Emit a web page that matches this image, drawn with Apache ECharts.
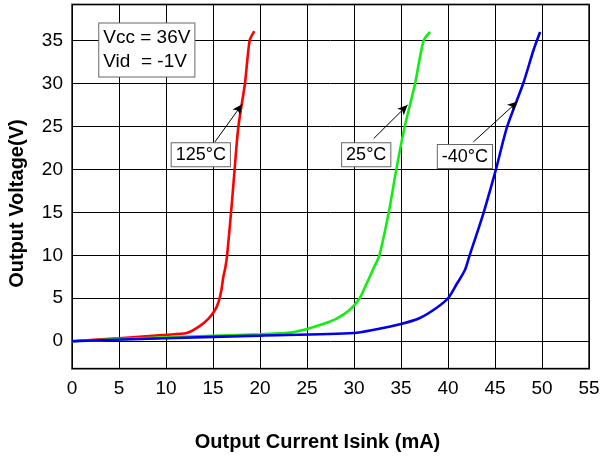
<!DOCTYPE html>
<html>
<head>
<meta charset="utf-8">
<title>Output Voltage vs Output Current</title>
<script src="https://cdn.jsdelivr.net/npm/echarts@6/dist/echarts.min.js"></script>
<style>
    html, body { margin: 0; padding: 0; background: #fff; }
    #chart { width: 603px; height: 461px; }
</style>
</head>
<body>
<div id="chart"></div>
<script>
// output current (mA) / output voltage (V)
const hotX = [0, 5, 10, 12.2, 13.5, 14.5, 15.2, 15.6, 15.9, 16.1, 16.3, 16.5, 17.0, 17.3, 17.7, 18.4, 18.9, 19.4];
const hotY = [0, 0.35, 0.75, 0.95, 1.7, 2.6, 3.6, 4.6, 6.0, 7.5, 8.5, 10, 16, 20, 25, 30, 35, 36.1];

const roomX = [0, 10, 20, 23.2, 24.9, 26.7, 28.1, 29.5, 30.6, 31.3, 32.0, 32.7, 33.7, 34.5, 35.4, 36.5, 37.4, 38.1];
const roomY = [0, 0.45, 0.8, 1.0, 1.4, 2.0, 2.6, 3.6, 5.0, 6.6, 8.3, 10, 15, 20, 25, 30, 35, 36];

const coldX = [0, 10, 20, 30, 32, 35, 37, 38.8, 40, 40.9, 41.8, 42.3, 43.0, 43.8, 45.1, 46.3, 48.0, 49.1, 49.8];
const coldY = [0, 0.35, 0.65, 0.95, 1.3, 2.0, 2.7, 3.9, 5.0, 6.6, 8.3, 10, 12.3, 15, 20, 25, 30, 33.9, 36];

const seriesNames = ['125°C', '25°C', '-40°C'];
const seriesColors = ['#ff0000', '#11ee11', '#0000ee'];

// label box centre and arrow (from, to) in data units
const labelAt = [[13.7, 21.7], [31.3, 21.7], [41.8, 21.5]];
const arrowFrom = [[15.2, 23.2], [32.1, 23.6], [42.7, 23.2]];
const arrowTo = [[18.1, 27.6], [35.7, 27.5], [47.4, 27.9]];

const conditionText = 'Vcc = 36V\nVid  = -1V';
const conditionAt = [2.9, 33.9];

const FONT = 'Liberation Sans, Arial, sans-serif';

function zip(xs, ys) {
    return xs.map((x, i) => [x, ys[i]]);
}

const boxLabel = {
    show: true,
    position: 'inside',
    color: '#000',
    fontFamily: FONT,
    fontSize: 18,
    backgroundColor: '#fff',
    borderColor: '#666',
    borderWidth: 1,
    padding: [3, 4, 2, 4]
};

const curves = [zip(hotX, hotY), zip(roomX, roomY), zip(coldX, coldY)];

const series = curves.map((data, i) => {
    return {
        name: seriesNames[i],
        type: 'line',
        data: data,
        symbol: 'none',
        smooth: 0.25,
        smoothMonotone: 'none',
        lineStyle: { color: seriesColors[i], width: 2.6 },
        markLine: {
            silent: true,
            symbol: ['none', 'arrow'],
            symbolSize: [7, 10],
            lineStyle: { color: '#000', width: 1, type: 'solid' },
            label: { show: false },
            data: [[{ coord: arrowFrom[i] }, { coord: arrowTo[i] }]]
        },
        markPoint: {
            silent: true,
            symbol: 'rect',
            symbolSize: 0,
            label: Object.assign({}, boxLabel, { formatter: seriesNames[i] }),
            data: [{ coord: labelAt[i] }]
        }
    };
});

// the test condition box sits on the first series
series[0].markPoint.data.push({
    coord: conditionAt,
    label: Object.assign({}, boxLabel, {
        formatter: conditionText,
        align: 'left',
        fontSize: 19,
        lineHeight: 24,
        padding: [3, 4, 2, 4]
    })
});

const chart = echarts.init(document.getElementById('chart'));
chart.setOption({
    animation: false,
    backgroundColor: '#fff',
    grid: {
        left: 72,
        right: 14,
        top: 4.5,
        bottom: 92.3,
        outerBoundsMode: 'none',
        containLabel: false,
        show: true,
        borderColor: '#555',
        borderWidth: 2,
        backgroundColor: 'transparent'
    },
    xAxis: {
        type: 'value',
        min: 0,
        max: 55,
        interval: 5,
        name: 'Output Current Isink (mA)',
        nameLocation: 'middle',
        nameGap: 64,
        nameTextStyle: {
            color: '#000',
            fontFamily: FONT,
            fontSize: 20,
            fontWeight: 'bold',
            padding: [0, 26, 0, 0]
        },
        axisLine: { show: false },
        axisTick: { show: false },
        axisLabel: { color: '#000', fontFamily: FONT, fontSize: 19, margin: 11 },
        splitLine: { show: true, lineStyle: { color: '#000', width: 1 } }
    },
    yAxis: {
        type: 'value',
        min: -3.2,
        max: 39.2,
        minInterval: 5,
        maxInterval: 5,
        name: 'Output Voltage(V)',
        nameLocation: 'middle',
        nameGap: 45,
        nameTextStyle: {
            color: '#000',
            fontFamily: FONT,
            fontSize: 20,
            fontWeight: 'bold',
            padding: [0, 34, 0, 0]
        },
        axisLine: { show: false },
        axisTick: { show: false },
        axisLabel: {
            color: '#000',
            fontFamily: FONT,
            fontSize: 19,
            margin: 9,
            showMinLabel: false,
            showMaxLabel: false
        },
        splitLine: { show: true, lineStyle: { color: '#000', width: 1 } }
    },
    series: series
});
</script>
</body>
</html>
